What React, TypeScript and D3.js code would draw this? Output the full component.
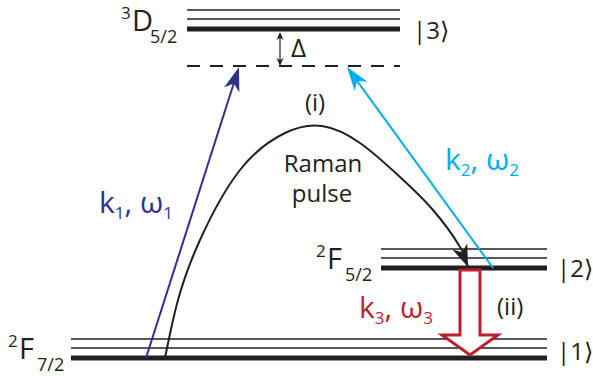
import React from "react";
import * as d3 from "d3";

// energy-level diagram, drawn in "diagram units": x in px-like units, energy upward
const W = 593;
const H = 376;

const levelNames = ["F72", "F52", "D52"];
const levelEnergy = [0, 90, 329];
const levelStart = [71, 381, 187];
const levelEnd = [547, 547, 400];
const sublevelOffsets = [10, 19];

const virtualEnergy = 292;
const virtualStart = 187;
const virtualEnd = 400;

// beams: [x from, energy from, x to, energy to]
const beamNames = ["k1", "k2"];
const beamColors = ["#2E3192", "#00AEEF"];
const beamFrom = [[146, 0], [493, 90]];
const beamTo = [[239, 291], [347, 291]];

// Raman pulse curve (x, energy)
const pulseX = [165, 178, 200, 240, 285, 322, 360, 400, 433, 460, 468];
const pulseE = [0, 58, 118, 188, 225, 232, 215, 181, 148, 111, 91];

// decay arrow (ii): x center, top energy, head base energy, tip energy
const decayX = 470;
const decayE = [88, 23, 3];

// detuning arrow
const deltaX = 280;
const deltaE = [326, 292];

const kets = ["|1⟩", "|2⟩", "|3⟩"];

const x = d3.scaleLinear().domain([0, W]).range([0, W]);
const y = d3.scaleLinear().domain([0, 329]).range([358, 29]);

const ink = "#231F20";
const red = "#BE1E2D";
const font = "'Open Sans', sans-serif";

function headPath(x0: number, y0: number, x1: number, y1: number, L: number, Wd: number) {
  const dx = x1 - x0;
  const dy = y1 - y0;
  const len = Math.hypot(dx, dy);
  const ux = dx / len;
  const uy = dy / len;
  const nx = -uy;
  const ny = ux;
  const bx = x1 - L * ux;
  const by = y1 - L * uy;
  const p = d3.path();
  p.moveTo(x1, y1);
  p.lineTo(bx + (Wd / 2) * nx, by + (Wd / 2) * ny);
  p.lineTo(x1 - L * 0.72 * ux, y1 - L * 0.72 * uy);
  p.lineTo(bx - (Wd / 2) * nx, by - (Wd / 2) * ny);
  p.closePath();
  return p.toString();
}

const Term = ({ tx, ty, sup, letter, sub }: any) => (
  <text fontFamily={font} fill={ink}>
    <tspan x={tx} y={ty - 12} fontSize={17}>{sup}</tspan>
    <tspan x={tx + 11} y={ty} fontSize={29}>{letter}</tspan>
    <tspan x={tx + 29} y={ty + 12} fontSize={18}>{sub}</tspan>
  </text>
);

const KLabel = ({ tx, ty, n, color }: any) => (
  <text x={tx} y={ty} fontFamily={font} fontSize={30} fill={color}>
    k<tspan fontSize={17} dy={6}>{n}</tspan>
    <tspan dy={-6}>, ω</tspan>
    <tspan fontSize={17} dy={6}>{n}</tspan>
  </text>
);

const Ket = ({ tx, ty, label }: any) => (
  <text x={tx} y={ty} fontFamily={font} fontSize={24} fill={ink}>{label}</text>
);

export default function App() {
  const pulsePts = pulseX.map((v, i) => [x(v), y(pulseE[i])] as [number, number]);
  const pulseLine = d3.line().curve(d3.curveNatural)(pulsePts) || "";
  const pn = pulsePts.length;
  const pulseHead = headPath(pulsePts[pn - 2][0], pulsePts[pn - 2][1], pulsePts[pn - 1][0], pulsePts[pn - 1][1], 22, 16);

  const hw = 10;
  const headW = 28;
  const decay = d3.path();
  decay.moveTo(x(decayX - hw), y(decayE[0]));
  decay.lineTo(x(decayX - hw), y(decayE[1]));
  decay.lineTo(x(decayX - headW), y(decayE[1]));
  decay.lineTo(x(decayX), y(decayE[2]));
  decay.lineTo(x(decayX + headW), y(decayE[1]));
  decay.lineTo(x(decayX + hw), y(decayE[1]));
  decay.lineTo(x(decayX + hw), y(decayE[0]));
  decay.closePath();

  return (
    <svg width={W} height={H} style={{ position: "absolute", left: 0, top: 0, background: "#fff" }}>
      {levelNames.map((name, i) => (
        <g key={name}>
          <line x1={x(levelStart[i])} x2={x(levelEnd[i])} y1={y(levelEnergy[i])} y2={y(levelEnergy[i])}
            stroke={ink} strokeWidth={5} />
          {sublevelOffsets.map((o) => (
            <line key={o} x1={x(levelStart[i])} x2={x(levelEnd[i])}
              y1={y(levelEnergy[i] + o)} y2={y(levelEnergy[i] + o)} stroke={ink} strokeWidth={1.3} />
          ))}
        </g>
      ))}
      <line x1={x(virtualStart)} x2={x(virtualEnd)} y1={y(virtualEnergy)} y2={y(virtualEnergy)}
        stroke={ink} strokeWidth={2.2} strokeDasharray="13,10" />

      {/* detuning */}
      <line x1={x(deltaX)} x2={x(deltaX)} y1={y(deltaE[0]) + 3} y2={y(deltaE[1]) - 3} stroke={ink} strokeWidth={1.2} />
      <path d={headPath(x(deltaX), y(deltaE[1]), x(deltaX), y(deltaE[0]), 8, 7)} fill={ink} />
      <path d={headPath(x(deltaX), y(deltaE[0]), x(deltaX), y(deltaE[1]), 8, 7)} fill={ink} />

      {beamNames.map((b, i) => {
        const x0 = x(beamFrom[i][0]);
        const y0 = y(beamFrom[i][1]);
        const x1 = x(beamTo[i][0]);
        const y1 = y(beamTo[i][1]);
        return (
          <g key={b}>
            <line x1={x0} y1={y0} x2={x1 - (x1 - x0) * 0.05} y2={y1 - (y1 - y0) * 0.05}
              stroke={beamColors[i]} strokeWidth={2} />
            <path d={headPath(x0, y0, x1, y1, 24, 16)} fill={beamColors[i]} />
          </g>
        );
      })}

      <path d={pulseLine} fill="none" stroke={ink} strokeWidth={2} />
      <path d={pulseHead} fill={ink} />

      <path d={decay.toString()} fill="#fff" stroke={red} strokeWidth={3} strokeLinejoin="miter" />

      <Term tx={121} ty={31} sup="3" letter="D" sub="5/2" />
      <Term tx={8} ty={359} sup="2" letter="F" sub="7/2" />
      <Term tx={316} ty={269} sup="2" letter="F" sub="5/2" />

      <Ket tx={557} ty={360} label={kets[0]} />
      <Ket tx={557} ty={277} label={kets[1]} />
      <Ket tx={413} ty={39} label={kets[2]} />

      <text x={291} y={57} fontFamily={font} fontSize={26} fill={ink}>Δ</text>
      <text x={315} y={111} fontFamily={font} fontSize={24} fill={ink} textAnchor="middle">(i)</text>
      <text x={323} y={172} fontFamily={font} fontSize={24} fill={ink} textAnchor="middle">Raman</text>
      <text x={322} y={202} fontFamily={font} fontSize={24} fill={ink} textAnchor="middle">pulse</text>
      <text x={497} y={315} fontFamily={font} fontSize={24} fill={ink}>(ii)</text>

      <KLabel tx={99} ty={213} n="1" color={beamColors[0]} />
      <KLabel tx={445} ty={170} n="2" color={beamColors[1]} />
      <KLabel tx={359} ty={318} n="3" color={red} />
    </svg>
  );
}
